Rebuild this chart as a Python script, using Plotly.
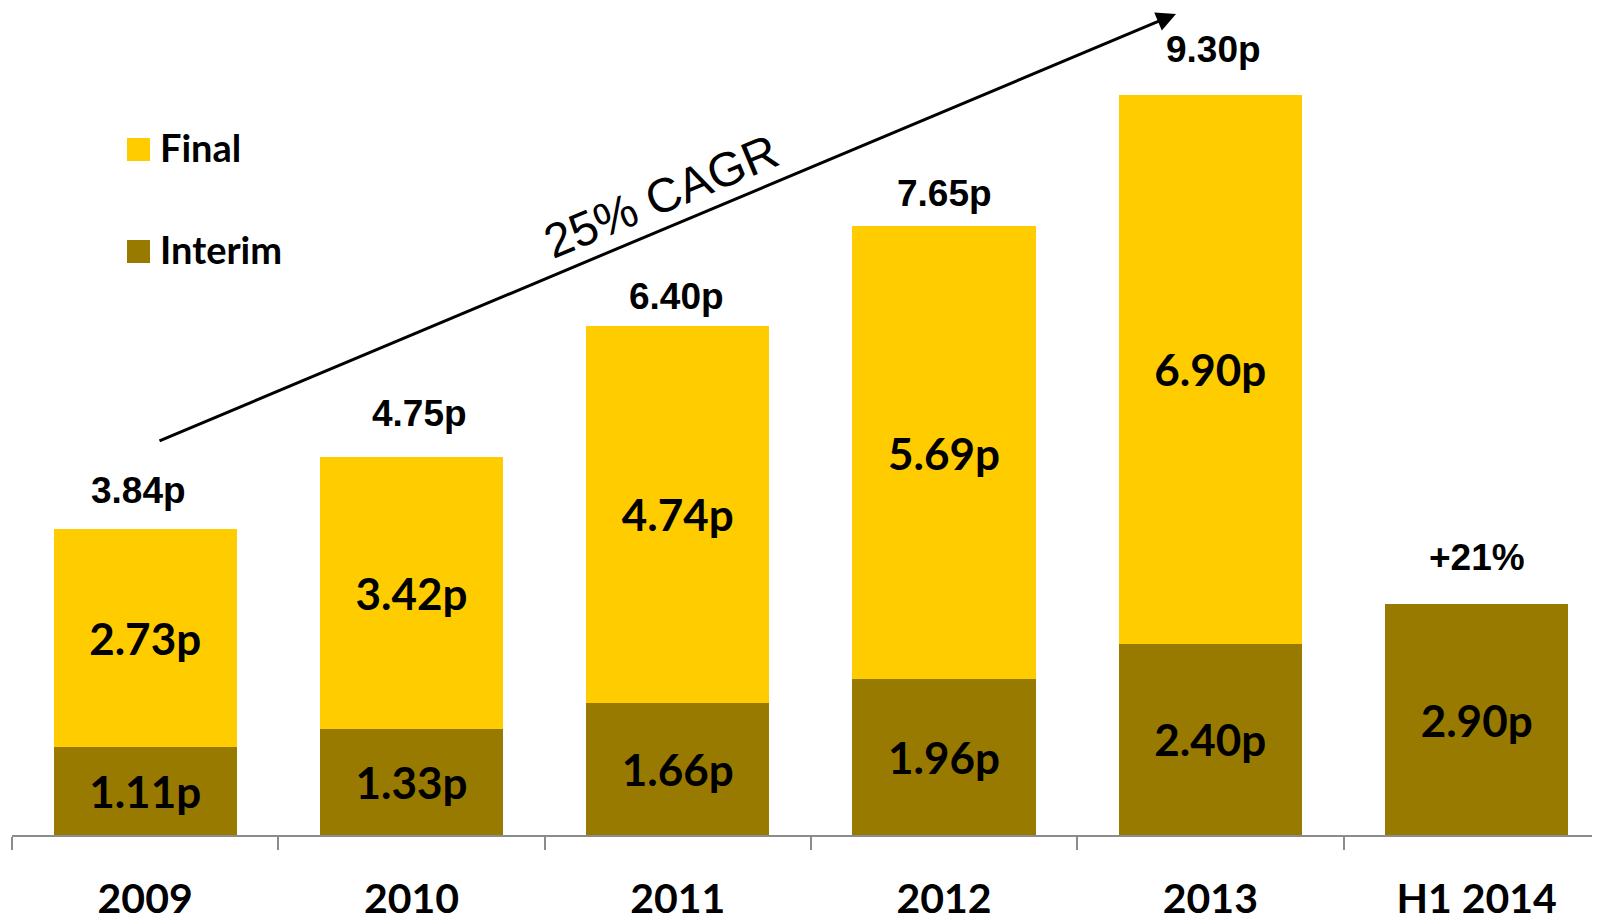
import plotly.graph_objects as go

# ---------------- data ----------------
categories = ["2009", "2010", "2011", "2012", "2013", "H1 2014"]
interim = [1.11, 1.33, 1.66, 1.96, 2.40, 2.90]
final = [2.73, 3.42, 4.74, 5.69, 6.90, None]
growth_label = "+21%"          # label above the H1 2014 bar
cagr_label = "25% CAGR"

# ---------------- styles ----------------
FINAL_COLOR = "#FFCC00"
INTERIM_COLOR = "#997A00"
AXIS_COLOR = "#8C8C8C"
CALIBRI_LIKE = "Lato"
ARIAL_LIKE = "Liberation Sans"

# page is offset by the default 8px body margin
OFF = 8
W, H = 1600 - OFF, 916 - OFF
ML = 12 - OFF
PLOT_BOTTOM = 835 - OFF
MB = H - PLOT_BOTTOM
PLOT_W, PLOT_H = W - ML, PLOT_BOTTOM
CAT_PX = 266.3
PX_PER_UNIT = 79.6
x_range = [-0.5, -0.5 + PLOT_W / CAT_PX]
y_range = [0, PLOT_H / PX_PER_UNIT]

# pixel offsets of the total labels (dx, dy above bar top) as placed in the original slide
label_dx = [-7, 8, -1, 0, 3, 0]
label_dy = [39, 43, 29, 33, 45, 47]


def fmt(v):
    return f"{v:.2f}p"


def px_x(p):  # page pixel -> paper fraction
    return (p - OFF - ML) / PLOT_W


def px_y(p):
    return (PLOT_BOTTOM - (p - OFF)) / PLOT_H


def dx(p):  # page pixel -> category-axis value
    return -0.5 + (p - OFF - ML) / CAT_PX


def dy(p):
    return (PLOT_BOTTOM - (p - OFF)) / PX_PER_UNIT


fig = go.Figure()
fig.add_trace(go.Bar(
    x=categories, y=interim, name="Interim", marker_color=INTERIM_COLOR,
    marker_line_width=0,
    text=[fmt(v) for v in interim], textposition="inside",
    insidetextanchor="middle", constraintext="none", textangle=0,
    textfont=dict(family=CALIBRI_LIKE, size=44, color="black", weight="bold"),
    showlegend=False,
))
fig.add_trace(go.Bar(
    x=categories, y=final, name="Final", marker_color=FINAL_COLOR,
    marker_line_width=0,
    text=[fmt(v) if v is not None else "" for v in final], textposition="inside",
    insidetextanchor="middle", constraintext="none", textangle=0,
    textfont=dict(family=CALIBRI_LIKE, size=44, color="black", weight="bold"),
    showlegend=False,
))

# totals above bars
annotations = []
for i, cat in enumerate(categories):
    top = interim[i] + (final[i] or 0)
    txt = fmt(top) if final[i] is not None else growth_label
    annotations.append(dict(
        x=i, y=top, xref="x", yref="y", text=txt, showarrow=False,
        xshift=label_dx[i], yshift=label_dy[i], yanchor="middle",
        font=dict(family=ARIAL_LIKE, size=37, color="black", weight="bold"),
    ))

# CAGR arrow
annotations.append(dict(
    x=dx(1176), y=dy(14), ax=dx(158), ay=dy(441.5), xref="x", yref="y", axref="x", ayref="y",
    text="", showarrow=True, arrowhead=2, arrowsize=1.3, arrowwidth=3, arrowcolor="black",
))
annotations.append(dict(
    x=dx(661), y=dy(196), xref="x", yref="y", text=cagr_label, showarrow=False,
    textangle=-22.6, font=dict(family=ARIAL_LIKE, size=48, color="black"),
))

# manual legend
shapes = []
for name, color, y0 in [("Final", FINAL_COLOR, 138), ("Interim", INTERIM_COLOR, 240)]:
    shapes.append(dict(type="rect", xref="paper", yref="paper",
                       x0=px_x(127), x1=px_x(150), y0=px_y(y0 + 23), y1=px_y(y0),
                       fillcolor=color, line_width=0))
    annotations.append(dict(
        x=px_x(158), y=px_y(y0 + 9), xref="paper", yref="paper", text=name,
        showarrow=False, xanchor="left", yanchor="middle",
        font=dict(family=CALIBRI_LIKE, size=38, color="black", weight="bold"),
    ))

fig.update_layout(
    width=W, height=H, barmode="stack", bargap=0.312,
    margin=dict(l=ML, r=0, t=0, b=MB, pad=0),
    plot_bgcolor="white", paper_bgcolor="white",
    annotations=annotations, shapes=shapes,
    xaxis=dict(
        type="category", range=x_range, showline=True, linecolor=AXIS_COLOR, linewidth=2,
        ticks="outside", tickson="boundaries", ticklen=13, tickwidth=2, tickcolor=AXIS_COLOR,
        tickfont=dict(family=CALIBRI_LIKE, size=41, color="black", weight="bold"),
        ticklabelstandoff=27, automargin=False, showgrid=False,
    ),
    yaxis=dict(range=y_range, visible=False, showgrid=False, zeroline=False),
)

fig.write_html("out.html")
